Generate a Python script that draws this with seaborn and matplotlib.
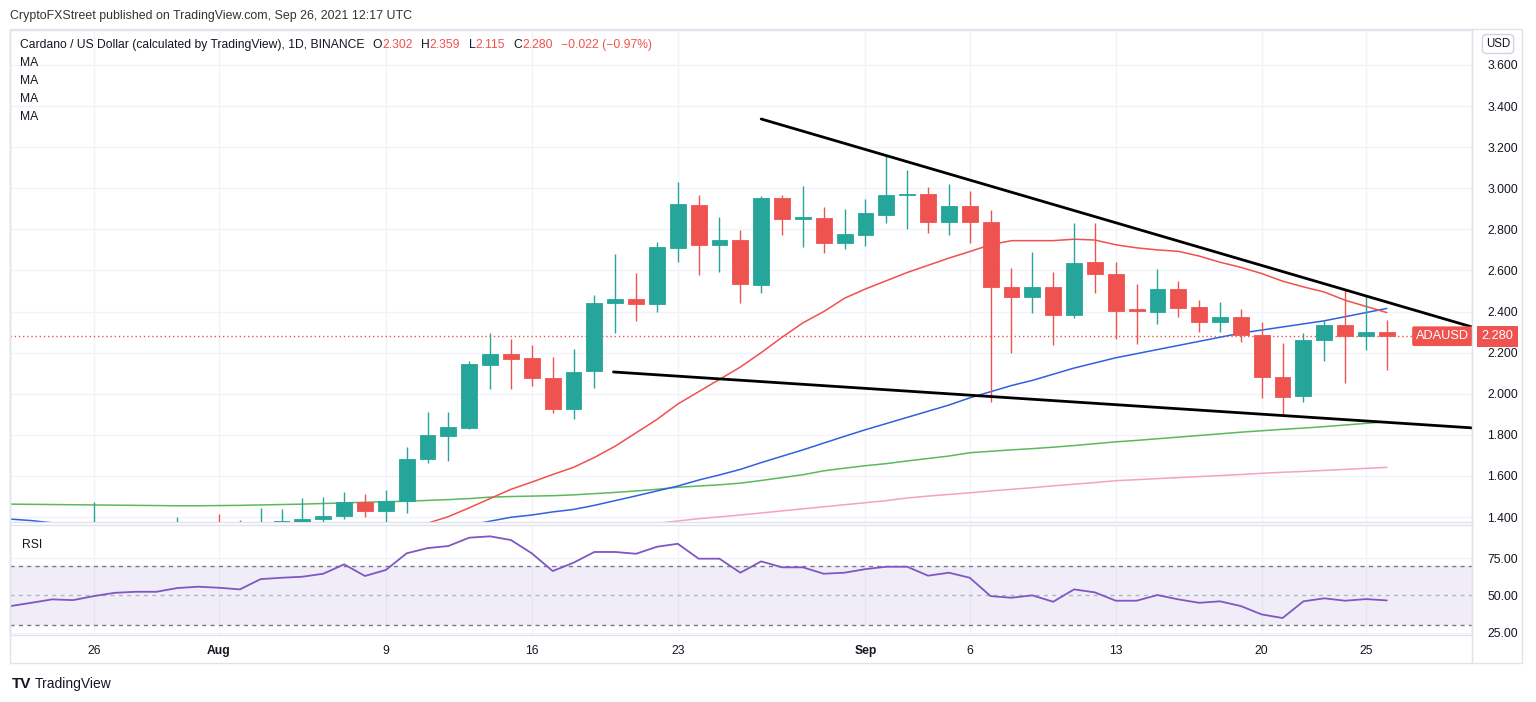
import numpy as np
import pandas as pd
import matplotlib
matplotlib.use("Agg")
import matplotlib.pyplot as plt
import matplotlib.dates as mdates
from matplotlib.lines import Line2D
from matplotlib.patches import Rectangle
import seaborn as sns

# ADA/USD daily candles, 22 Jul - 26 Sep 2021
dates = pd.date_range("2021-07-22", "2021-09-26", freq="D")

opens = [1.19, 1.22, 1.25, 1.31, 1.30, 1.33, 1.30, 1.29, 1.28, 1.33,
         1.36, 1.35, 1.30, 1.370, 1.378, 1.389, 1.405, 1.475, 1.430, 1.480,
         1.681, 1.796, 1.832, 2.142, 2.194, 2.174, 2.078, 1.925, 2.110, 2.443,
         2.460, 2.438, 2.711, 2.919, 2.723, 2.747, 2.529, 2.953, 2.851, 2.857,
         2.735, 2.773, 2.872, 2.966, 2.972, 2.836, 2.914, 2.836, 2.518, 2.473,
         2.518, 2.385, 2.641, 2.585, 2.410, 2.398, 2.512, 2.424, 2.351, 2.375,
         2.286, 2.080, 1.991, 2.262, 2.335, 2.283, 2.302]
highs = [1.24, 1.26, 1.32, 1.34, 1.475, 1.36, 1.35, 1.33, 1.402, 1.37,
         1.415, 1.385, 1.443, 1.439, 1.494, 1.496, 1.521, 1.512, 1.532, 1.740,
         1.913, 1.913, 2.160, 2.294, 2.265, 2.237, 2.181, 2.216, 2.481, 2.680,
         2.589, 2.740, 3.031, 2.967, 2.862, 2.797, 2.963, 2.967, 3.011, 2.907,
         2.899, 2.948, 3.162, 3.089, 3.005, 3.021, 2.987, 2.894, 2.611, 2.689,
         2.591, 2.833, 2.833, 2.640, 2.534, 2.607, 2.549, 2.456, 2.448, 2.411,
         2.351, 2.249, 2.294, 2.359, 2.505, 2.481, 2.359]
lows = [1.17, 1.20, 1.24, 1.27, 1.26, 1.25, 1.27, 1.27, 1.25, 1.31,
        1.31, 1.30, 1.28, 1.33, 1.34, 1.36, 1.389, 1.402, 1.36, 1.418,
        1.665, 1.674, 1.830, 2.022, 2.022, 2.038, 1.908, 1.876, 2.030, 2.294,
        2.356, 2.398, 2.643, 2.578, 2.594, 2.443, 2.492, 2.773, 2.716, 2.687,
        2.703, 2.719, 2.830, 2.800, 2.784, 2.773, 2.735, 1.962, 2.197, 2.392,
        2.237, 2.367, 2.492, 2.265, 2.241, 2.340, 2.375, 2.302, 2.302, 2.254,
        1.978, 1.892, 1.959, 2.161, 2.051, 2.213, 2.115]
closes = [1.22, 1.25, 1.31, 1.32, 1.33, 1.30, 1.29, 1.30, 1.33, 1.35,
          1.32, 1.30, 1.375, 1.381, 1.389, 1.405, 1.475, 1.430, 1.480, 1.681,
          1.800, 1.840, 2.145, 2.194, 2.171, 2.075, 1.925, 2.108, 2.443, 2.460,
          2.437, 2.713, 2.924, 2.723, 2.747, 2.533, 2.953, 2.851, 2.856, 2.735,
          2.776, 2.878, 2.966, 2.971, 2.836, 2.914, 2.836, 2.518, 2.473, 2.520,
          2.385, 2.638, 2.583, 2.404, 2.404, 2.512, 2.419, 2.351, 2.375, 2.286,
          2.080, 1.986, 2.262, 2.335, 2.283, 2.302, 2.280]

nan = np.nan
ma_red = [nan] * 19 + [
    1.33, 1.37, 1.402, 1.445, 1.49, 1.535, 1.57, 1.607, 1.642, 1.69,
    1.745, 1.81, 1.875, 1.95, 2.01, 2.07, 2.13, 2.20, 2.275, 2.345,
    2.40, 2.465, 2.51, 2.55, 2.59, 2.625, 2.66, 2.692, 2.725, 2.745,
    2.745, 2.745, 2.752, 2.748, 2.725, 2.71, 2.70, 2.693, 2.67, 2.64,
    2.615, 2.585, 2.548, 2.52, 2.495, 2.455, 2.425, 2.395]
ma_blue = [1.39, 1.383, 1.372, 1.365, 1.358, 1.352, 1.347, 1.343, 1.340, 1.338,
           1.337, 1.336, 1.336, 1.337, 1.338, 1.339, 1.340, 1.341, 1.343, 1.345,
           1.348, 1.352, 1.36, 1.38, 1.399, 1.41, 1.425, 1.437, 1.457, 1.48,
           1.503, 1.527, 1.551, 1.58, 1.605, 1.632, 1.665, 1.696, 1.727, 1.76,
           1.793, 1.825, 1.855, 1.885, 1.915, 1.945, 1.98, 2.01, 2.04, 2.065,
           2.095, 2.125, 2.15, 2.175, 2.195, 2.215, 2.235, 2.255, 2.275, 2.295,
           2.31, 2.325, 2.34, 2.355, 2.375, 2.395, 2.415]
ma_green = [1.463, 1.462, 1.461, 1.460, 1.459, 1.458, 1.457, 1.456, 1.455, 1.455,
            1.456, 1.457, 1.459, 1.461, 1.463, 1.466, 1.469, 1.472, 1.475, 1.477,
            1.481, 1.485, 1.49, 1.497, 1.50, 1.502, 1.504, 1.508, 1.514, 1.52,
            1.527, 1.535, 1.545, 1.551, 1.557, 1.565, 1.578, 1.592, 1.606, 1.625,
            1.638, 1.650, 1.660, 1.673, 1.685, 1.697, 1.713, 1.72, 1.727, 1.733,
            1.74, 1.748, 1.757, 1.766, 1.773, 1.781, 1.789, 1.797, 1.805, 1.813,
            1.82, 1.827, 1.833, 1.84, 1.848, 1.856, 1.864]
ma_pink = [nan] * 30 + [
    1.36, 1.37, 1.381, 1.392, 1.401, 1.41, 1.42, 1.43, 1.44, 1.45,
    1.46, 1.47, 1.48, 1.493, 1.502, 1.51, 1.518, 1.527, 1.535, 1.543,
    1.552, 1.56, 1.568, 1.577, 1.582, 1.587, 1.592, 1.597, 1.602, 1.607,
    1.613, 1.618, 1.622, 1.627, 1.632, 1.637, 1.642]

rsi = [42.8, 45.0, 47.3, 46.8, 49.5, 51.7, 52.4, 52.4, 54.9, 55.8,
       55.1, 54.0, 60.9, 61.8, 62.5, 64.5, 70.8, 63.0, 67.0, 78.2,
       81.7, 83.1, 88.7, 89.6, 87.1, 78.2, 66.3, 71.9, 79.1, 79.1,
       77.9, 82.6, 84.6, 74.6, 74.6, 65.2, 72.8, 68.8, 68.8, 64.5,
       65.2, 67.6, 69.2, 69.2, 63.2, 65.2, 61.8, 49.5, 48.4, 50.0,
       45.7, 54.0, 52.0, 46.4, 46.4, 50.2, 47.3, 45.0, 46.0, 42.8,
       37.2, 34.8, 46.0, 48.0, 46.4, 47.5, 46.6]

# hand-drawn trend lines (start / end)
upper_dates = ["2021-08-27 00:00", "2021-09-30 02:00"]
upper_prices = [3.337, 2.325]
lower_dates = ["2021-08-19 22:00", "2021-09-30 02:00"]
lower_prices = [2.106, 1.834]

tick_dates = ["2021-07-26", "2021-08-01", "2021-08-09", "2021-08-16", "2021-08-23",
              "2021-09-01", "2021-09-06", "2021-09-13", "2021-09-20", "2021-09-25"]
tick_labels = ["26", "Aug", "9", "16", "23", "Sep", "6", "13", "20", "25"]
price_ticks = [1.4, 1.6, 1.8, 2.0, 2.2, 2.4, 2.6, 2.8, 3.0, 3.2, 3.4, 3.6]
rsi_ticks = [25, 50, 75]

GREEN = "#26a69a"
RED = "#ef5350"
GRID = "#f0f3fa"
BORDER = "#e0e3eb"
TXT = "#131722"

sns.set_style("white")
plt.rcParams["font.family"] = ["Liberation Sans", "DejaVu Sans"]

W, H = 1536, 702
fig = plt.figure(figsize=(15.36, 7.02), dpi=100)
ax = fig.add_axes([10 / W, 1 - 522 / H, 1462 / W, 492 / H])
ax_rsi = fig.add_axes([10 / W, 1 - 635 / H, 1462 / W, 110 / H], sharex=ax)

df = pd.DataFrame({"date": dates, "open": opens, "high": highs, "low": lows,
                   "close": closes, "ma_red": ma_red, "ma_blue": ma_blue,
                   "ma_green": ma_green, "ma_pink": ma_pink, "rsi": rsi})
df["x"] = mdates.date2num(df["date"])
up = df["close"] >= df["open"]
colors = np.where(up, GREEN, RED)

# grid
for t in tick_dates:
    for a in (ax, ax_rsi):
        a.axvline(mdates.date2num(pd.Timestamp(t)), color=GRID, lw=1, zorder=0)
for p in price_ticks:
    ax.axhline(p, color=GRID, lw=1, zorder=0)

# moving averages
sns.lineplot(data=df, x="x", y="ma_pink", ax=ax, color="#f7a1c0", lw=1.1, zorder=2)
sns.lineplot(data=df, x="x", y="ma_green", ax=ax, color="#5cb85c", lw=1.1, zorder=2)
sns.lineplot(data=df, x="x", y="ma_blue", ax=ax, color="#3060e0", lw=1.1, zorder=2)
sns.lineplot(data=df, x="x", y="ma_red", ax=ax, color="#f0504e", lw=1.1, zorder=2)

# candles
ax.vlines(df["x"], df["low"], df["high"], colors=colors, lw=1, zorder=3)
body_low = np.minimum(df["open"], df["close"])
body_h = np.maximum(np.abs(df["close"] - df["open"]), 0.008)
ax.bar(df["x"], body_h, bottom=body_low, width=0.76, color=colors,
       edgecolor=colors, lw=0.6, zorder=4)

# trend lines
ax.plot(mdates.date2num(pd.to_datetime(upper_dates)), upper_prices, color="black", lw=2, zorder=5)
ax.plot(mdates.date2num(pd.to_datetime(lower_dates)), lower_prices, color="black", lw=2, zorder=5)

# last price line and labels
last = closes[-1]
ax.axhline(last, color=RED, lw=1, ls=(0, (1, 2)), zorder=1)
ax.annotate("ADAUSD", xy=((1442.5 - 10) / 1462, last), xycoords=("axes fraction", "data"),
            ha="center", va="center", color="white", fontsize=9.2, zorder=6,
            bbox=dict(boxstyle="round,pad=0.3,rounding_size=0.15", fc=RED, ec="none"))
ax.annotate(f"{last:.3f}", xy=((1497.5 - 10) / 1462, last), xycoords=("axes fraction", "data"),
            ha="center", va="center", color="white", fontsize=9.2, annotation_clip=False,
            bbox=dict(boxstyle="square,pad=0.35", fc=RED, ec="none"))

x0 = mdates.date2num(pd.Timestamp("2021-07-22")) - 0.02
x1 = mdates.date2num(pd.Timestamp("2021-09-30 02:00"))
ax.set_xlim(x0, x1)
ax.set_ylim(1.376, 3.770)
ax.set_yticks(price_ticks)
ax.set_yticklabels([f"{p:.3f}" for p in price_ticks])
ax.yaxis.tick_right()
ax.tick_params(axis="y", length=0, pad=11, labelsize=8.7, labelcolor=TXT)
ax.tick_params(axis="x", length=0, labelbottom=False)
ax.set_xlabel("")
ax.set_ylabel("")

# RSI panel
ax_rsi.axhspan(30, 70, color="#7e57c2", alpha=0.1, lw=0, zorder=0)
for lvl in rsi_ticks:
    ax_rsi.axhline(lvl, color=GRID, lw=1, zorder=0)
for lvl, al in ((70, 1.0), (50, 0.5), (30, 1.0)):
    ax_rsi.axhline(lvl, color="#787b86", lw=1, ls=(0, (3, 3)), alpha=al, zorder=1)
sns.lineplot(data=df, x="x", y="rsi", ax=ax_rsi, color="#7e57c2", lw=1.3, zorder=3)
ax_rsi.set_ylim(23.4, 97.2)
ax_rsi.set_yticks(rsi_ticks)
ax_rsi.set_yticklabels([f"{v:.2f}" for v in rsi_ticks])
ax_rsi.yaxis.tick_right()
ax_rsi.tick_params(axis="y", length=0, pad=11, labelsize=8.7, labelcolor=TXT)
ax_rsi.set_xticks(mdates.date2num(pd.to_datetime(tick_dates)))
ax_rsi.set_xticklabels(tick_labels)
ax_rsi.tick_params(axis="x", length=0, pad=7, labelsize=8.7, labelcolor=TXT)
for lab in ax_rsi.get_xticklabels():
    if lab.get_text() in ("Aug", "Sep"):
        lab.set_fontweight("bold")
ax_rsi.set_xlim(x0, x1)
ax_rsi.set_xlabel("")
ax_rsi.set_ylabel("")
ax_rsi.text(12 / 1462, 0.82, "RSI", transform=ax_rsi.transAxes, fontsize=8.7,
            color=TXT, va="center")

for a in (ax, ax_rsi):
    for s in a.spines.values():
        s.set_color(BORDER)
        s.set_linewidth(1)

# outer frame and scale separator
fig.add_artist(Rectangle((10 / W, 1 - 663 / H), 1512 / W, 634 / H, transform=fig.transFigure,
                         fill=False, ec=BORDER, lw=1))
fig.add_artist(Line2D([1472 / W, 1472 / W], [1 - 663 / H, 1 - 29 / H], transform=fig.transFigure,
                      color=BORDER, lw=1))

# header texts
fig.text(10 / W, 1 - 16 / H, "CryptoFXStreet published on TradingView.com, Sep 26, 2021 12:17 UTC",
         fontsize=8.9, color="#333333", va="center")
pieces = [("Cardano / US Dollar (calculated by TradingView), 1D, BINANCE", TXT, 0),
          ("O", TXT, 6), ("2.302", RED, 0), ("H", TXT, 6), ("2.359", RED, 0),
          ("L", TXT, 6), ("2.115", RED, 0), ("C", TXT, 6), ("2.280", RED, 0),
          ("\u22120.022 (\u22120.97%)", RED, 6)]
prev = None
for txt, col, gap in pieces:
    if prev is None:
        prev = fig.text(20 / W, 1 - 45 / H, txt, fontsize=8.7, color=col, va="center")
    else:
        prev = ax.annotate(txt, xy=(1, 0.5), xycoords=prev, xytext=(gap, 0),
                           textcoords="offset points", fontsize=8.7, color=col,
                           va="center", ha="left", annotation_clip=False)
for yy in (63, 81, 99, 117):
    fig.text(20 / W, 1 - yy / H, "MA", fontsize=8.7, color=TXT, va="center")

fig.text(1498 / W, 1 - 44 / H, "USD", fontsize=8.3, color=TXT, ha="center", va="center",
         bbox=dict(boxstyle="round,pad=0.3,rounding_size=0.35", fc="white", ec="#d1d4dc", lw=1))

# footer
fig.text(12 / W, 1 - 684 / H, "TV", fontsize=11, fontweight="heavy", color=TXT, va="center")
fig.text(35 / W, 1 - 684 / H, "TradingView", fontsize=10, color=TXT, va="center")

fig.savefig("out.png", dpi=100, facecolor="white")
